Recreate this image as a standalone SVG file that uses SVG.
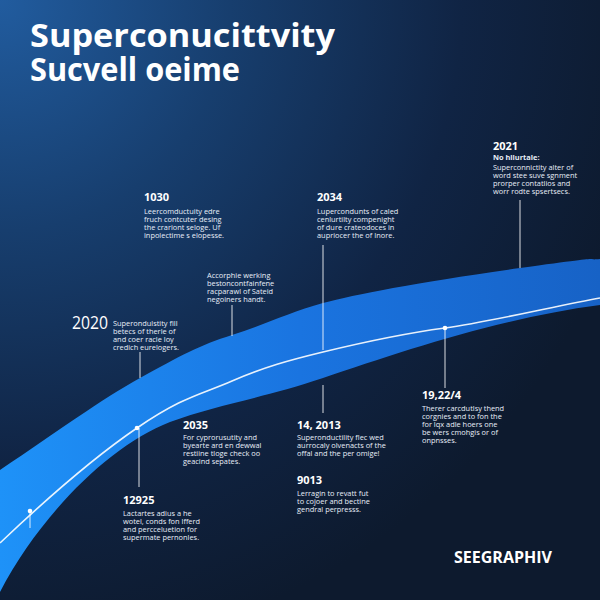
<svg xmlns="http://www.w3.org/2000/svg" width="600" height="600" viewBox="0 0 600 600">
<defs>
<radialGradient id="bg" cx="0" cy="0" r="1.1" gradientUnits="objectBoundingBox">
<stop offset="0" stop-color="#215c9f"/>
<stop offset="0.35" stop-color="#173e6e"/>
<stop offset="0.7" stop-color="#102444"/>
<stop offset="1" stop-color="#0d1a2e"/>
</radialGradient>
<linearGradient id="band" x1="0" y1="0" x2="1" y2="0">
<stop offset="0" stop-color="#1e92f8"/>
<stop offset="0.5" stop-color="#1a74e0"/>
<stop offset="1" stop-color="#1762c6"/>
</linearGradient>
<style>
text{font-family:"Open Sans","Liberation Sans",sans-serif;fill:#ffffff}
.title{font-size:33px;font-weight:700}
.yr{font-size:11px;font-weight:700}
.body{font-size:7.4px;fill:#e8eef8}
.tick{stroke:#ffffff;stroke-width:1;opacity:0.85}
.dot{fill:#ffffff}
</style>
</defs>
<rect width="600" height="600" fill="url(#bg)"/>
<path d="M0,470 C60,430 100,400 140,378 S200,345 232,335 S290,312 323,303 S420,282 520,268 S580,261 600,259 L600,305 C500,318 400,352 323,378 C260,399 215,405 170,422 C110,445 40,515 0,592 Z" fill="url(#band)"/>
<path d="M0,543 C40,505 90,460 137,428 S200,395 232,381 S290,360 323,352 S400,334 445,328 S560,305 600,298" fill="none" stroke="#ffffff" stroke-width="1.6" opacity="0.9"/>
<g id="connectors">
<line class="tick" x1="140" y1="352" x2="140" y2="378"/>
<line class="tick" x1="232" y1="305" x2="232" y2="336"/>
<line class="tick" x1="323" y1="245" x2="323" y2="350"/>
<line class="tick" x1="520" y1="200" x2="520" y2="268"/>
<line class="tick" x1="445" y1="328" x2="445" y2="388"/>
<line class="tick" x1="323" y1="385" x2="323" y2="413"/>
<line class="tick" x1="139" y1="428" x2="139" y2="487"/>
<line class="tick" x1="30" y1="511" x2="30" y2="528"/>
<circle class="dot" cx="30" cy="511" r="2.3"/>
<circle class="dot" cx="137" cy="428" r="2.3"/>
<circle class="dot" cx="445" cy="328" r="2.3"/>
</g>
<g id="title">
<text class="title" x="30" y="47" textLength="305" lengthAdjust="spacingAndGlyphs">Superconucittvity</text>
<text class="title" x="30" y="81" textLength="210" lengthAdjust="spacingAndGlyphs">Sucvell oeime</text>
</g>
<g id="n1030">
<text class="yr" x="144" y="201">1030</text>
<text class="body" x="144" y="214">Leercomductuity edre</text>
<text class="body" x="144" y="222">fruch contcuter desing</text>
<text class="body" x="144" y="230">the crariont seloge. Uf</text>
<text class="body" x="144" y="238">inpolectime s elopesse.</text>
</g>
<g id="n2034">
<text class="yr" x="317" y="201">2034</text>
<text class="body" x="317" y="214">Lupercondunts of caled</text>
<text class="body" x="317" y="222">cenlurtilty compenight</text>
<text class="body" x="317" y="230">of dure crateodoces in</text>
<text class="body" x="317" y="238">aupriocer the of Inore.</text>
</g>
<g id="n2021">
<text class="yr" x="493" y="150">2021</text>
<text class="body" x="493" y="160" style="font-weight:700">No hilurtale:</text>
<text class="body" x="493" y="170">Superconnictity alter of</text>
<text class="body" x="493" y="178">word stee suve sgnment</text>
<text class="body" x="493" y="186">prorper contatlios and</text>
<text class="body" x="493" y="194">worr rodte spsertsecs.</text>
</g>
<g id="nAccorphie">
<text class="body" x="207" y="277.5">Accorphie werking</text>
<text class="body" x="207" y="285.5">bestoncontfainfene</text>
<text class="body" x="207" y="293.5">racparawl of Sateid</text>
<text class="body" x="207" y="301.5">negoiners handt.</text>
</g>
<g id="n2020">
<text x="72" y="329" style="font-size:19px" textLength="36" lengthAdjust="spacingAndGlyphs">2020</text>
<text class="body" x="113" y="326">Superondulstity fill</text>
<text class="body" x="113" y="334">betecs of therle of</text>
<text class="body" x="113" y="342">and coer racle loy</text>
<text class="body" x="113" y="350">credich eurelogers.</text>
</g>
<g id="n2035">
<text class="yr" x="183" y="429">2035</text>
<text class="body" x="183" y="440">For cyprorusutity  and</text>
<text class="body" x="183" y="448">byearte ard en dewwal</text>
<text class="body" x="183" y="456">restiine tloge check oo</text>
<text class="body" x="183" y="464">geacind sepates.</text>
</g>
<g id="n142013">
<text class="yr" x="297" y="429">14, 2013</text>
<text class="body" x="297" y="440">Superonductility flec wed</text>
<text class="body" x="297" y="448">aurrocaly olvenacts of the</text>
<text class="body" x="297" y="456">offal and the per omige!</text>
</g>
<g id="n19224">
<text class="yr" x="422" y="399">19,22/4</text>
<text class="body" x="422" y="411">Therer carcdutlsy thend</text>
<text class="body" x="422" y="419">corgnies and to fon the</text>
<text class="body" x="422" y="427">for lqx adle  hoers one</text>
<text class="body" x="422" y="435">be wers cmohgis or of</text>
<text class="body" x="422" y="443">onpnsses.</text>
</g>
<g id="n12925">
<text class="yr" x="123" y="504">12925</text>
<text class="body" x="123" y="516">Lactartes adius  a he</text>
<text class="body" x="123" y="524">wotel, conds fon lfferd</text>
<text class="body" x="123" y="532">and percceluetion for</text>
<text class="body" x="123" y="540">supermate pernonles.</text>
</g>
<g id="n9013">
<text class="yr" x="297" y="484">9013</text>
<text class="body" x="297" y="496">Lerragin to revatt fut</text>
<text class="body" x="297" y="504">to cojoer and bectine</text>
<text class="body" x="297" y="512">gendral perpresss.</text>
</g>
<g id="brand">
<text x="454" y="563" style="font-size:16px;font-weight:700">SEEGRAPHIV</text>
</g>
</svg>
